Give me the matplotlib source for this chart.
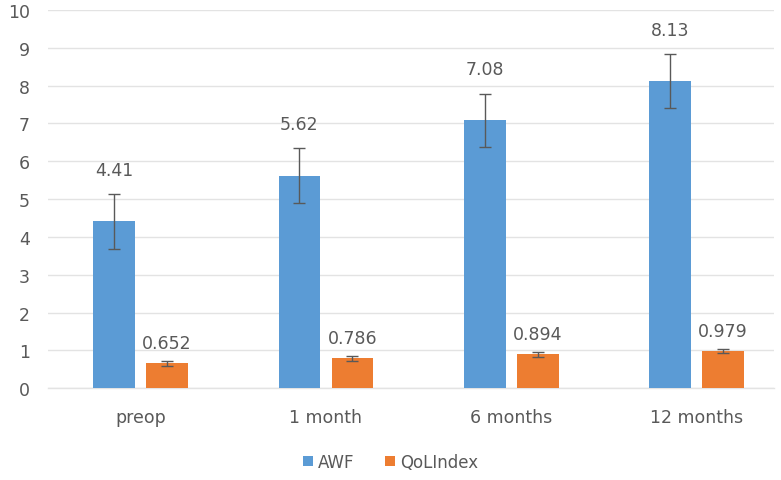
import matplotlib.pyplot as plt
import numpy as np

categories = ['preop', '1 month', '6 months', '12 months']
awf = [4.41, 5.62, 7.08, 8.13]
awf_err = [0.72, 0.72, 0.71, 0.71]
qol = [0.652, 0.786, 0.894, 0.979]
qol_err = [0.06, 0.06, 0.06, 0.05]
awf_labels = ['4.41', '5.62', '7.08', '8.13']
qol_labels = ['0.652', '0.786', '0.894', '0.979']

blue = '#5B9BD5'
orange = '#ED7D31'
txt = '#595959'

fig = plt.figure(figsize=(7.81, 4.81), dpi=100)
ax = fig.add_axes([0.0615, 0.191, 0.93, 0.786])

x = np.arange(len(categories))
w = 0.225
off = 0.143
ekw = dict(ecolor='#595959', elinewidth=1, capsize=4, capthick=1)
ax.bar(x - off, awf, w, color=blue, yerr=awf_err, error_kw=ekw, label='AWF', zorder=3)
ax.bar(x + off, qol, w, color=orange, yerr=qol_err, error_kw=ekw, label='QoLIndex', zorder=3)

for xi, v, e, s in zip(x, awf, awf_err, awf_labels):
    ax.text(xi - off, v + e + 0.4, s, ha='center', va='bottom', fontsize=12.5, color=txt)
for xi, v, e, s in zip(x, qol, qol_err, qol_labels):
    ax.text(xi + off, v + e + 0.25, s, ha='center', va='bottom', fontsize=12.5, color=txt)

ax.set_ylim(0, 10)
ax.set_xlim(-0.5, 3.42)
ax.set_yticks(range(0, 11))
ax.set_xticks(x)
ax.set_xticklabels(categories)
ax.tick_params(axis='both', length=0, labelsize=12.5, colors=txt)
ax.tick_params(axis='x', pad=14)
ax.tick_params(axis='y', pad=13)
ax.grid(axis='y', color='#E3E3E3', linewidth=1.0, zorder=0)
ax.axhline(0, color='#E3E3E3', linewidth=1.0, zorder=1, clip_on=False)
for sp in ax.spines.values():
    sp.set_visible(False)

fig.legend(loc='lower center', bbox_to_anchor=(0.5, -0.012), ncol=2, frameon=False,
           fontsize=12, handlelength=0.6, handleheight=0.6, handletextpad=0.3,
           columnspacing=1.8, labelcolor=txt)

fig.savefig('out.png', dpi=100)
